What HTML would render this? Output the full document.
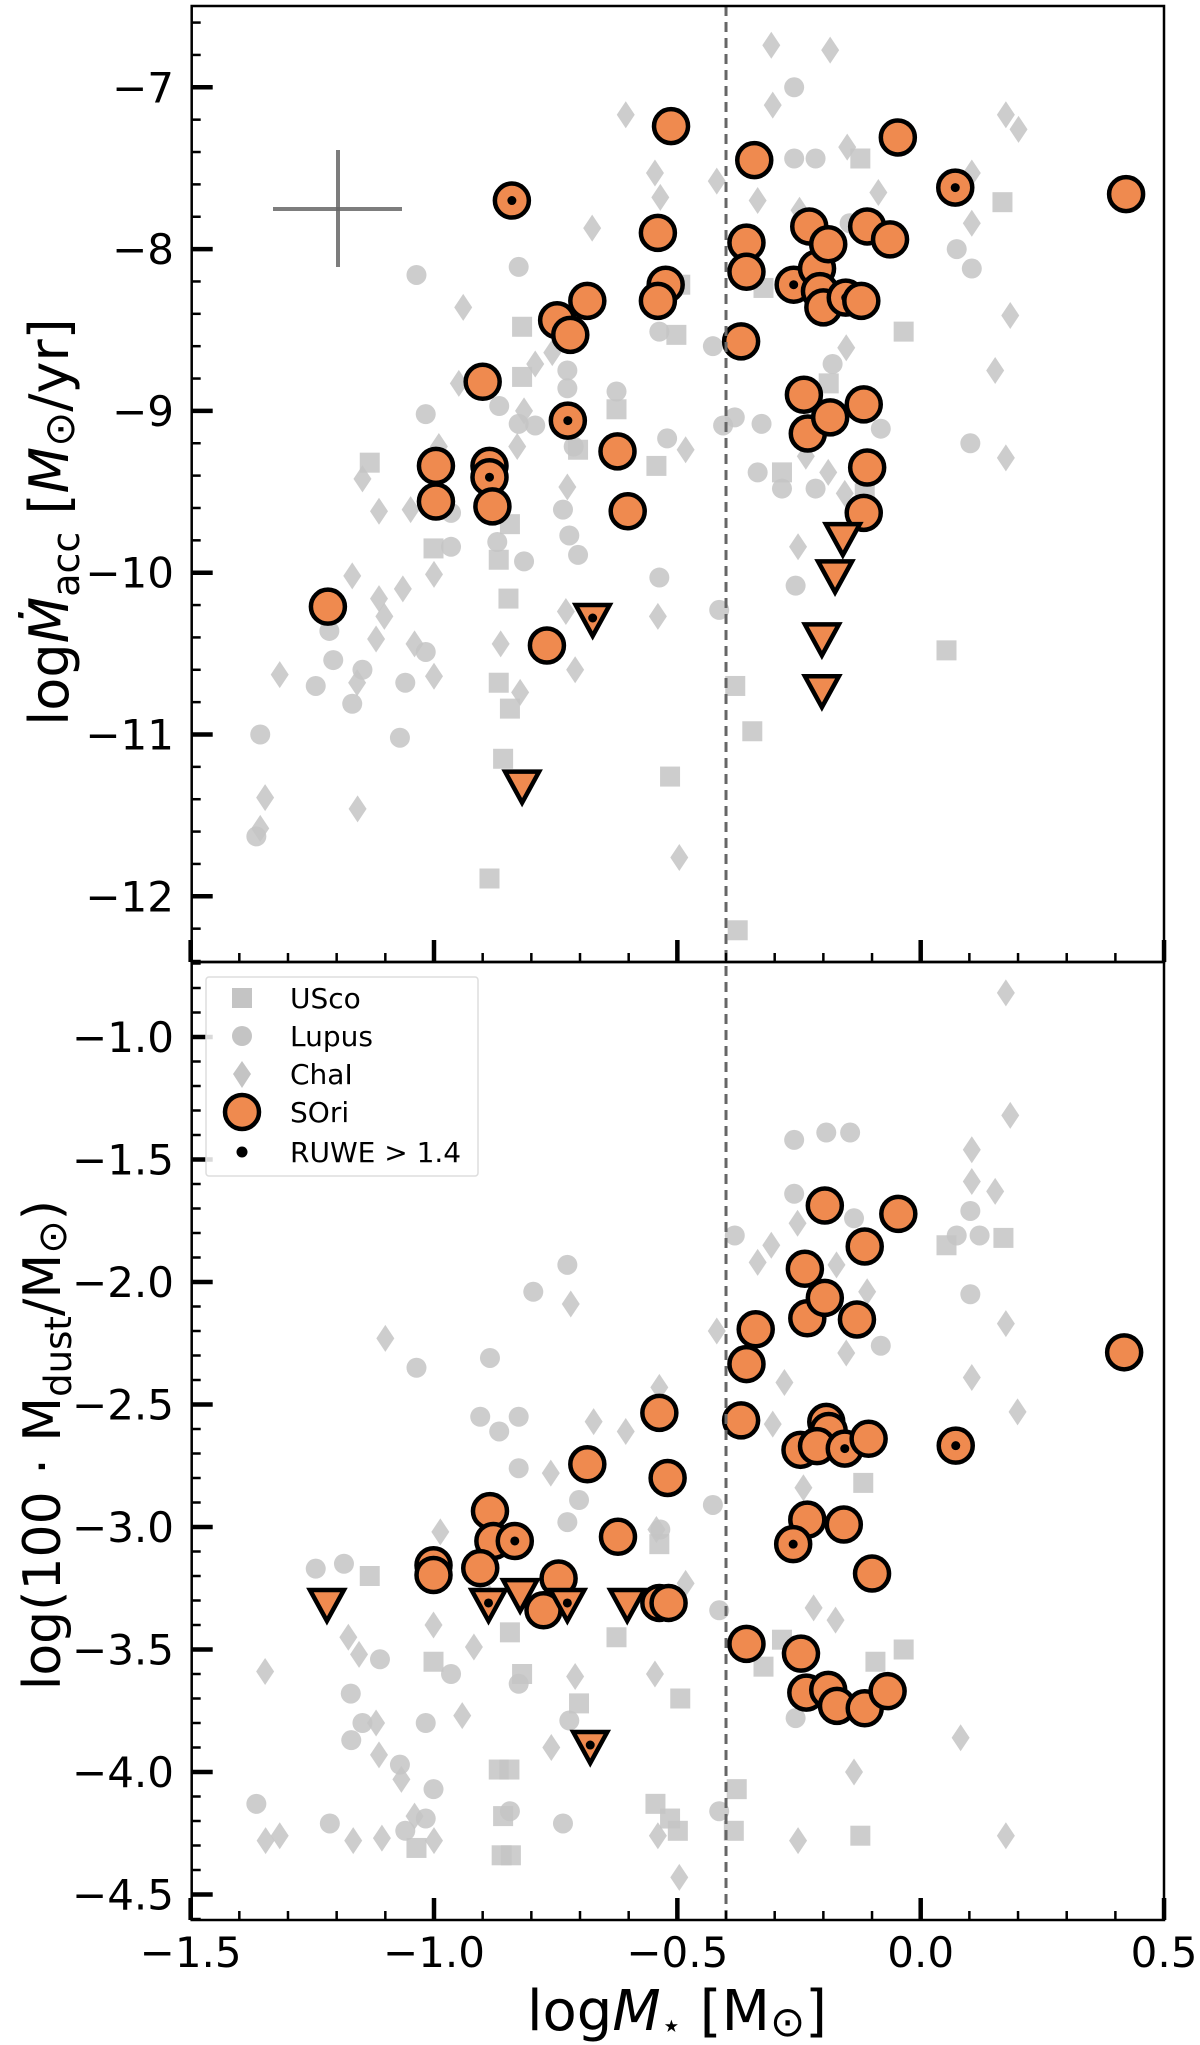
<!DOCTYPE html>
<html><head><meta charset="utf-8">
<style>
html,body{margin:0;padding:0;background:#fff;}
svg{display:block;font-family:"DejaVu Sans","Liberation Sans",sans-serif;}
</style></head>
<body>
<svg id="chart" width="1200" height="2045" viewBox="0 0 1200 2045" xmlns="http://www.w3.org/2000/svg">
<g id="grayLayer"></g>
<g id="oriLayer"></g>
<g id="axesLayer"></g>
<text transform="translate(68,522) rotate(-90)" text-anchor="middle" font-size="54">log<tspan font-style="italic">Ṁ</tspan><tspan font-size="38" dy="11">acc</tspan><tspan dy="-11"> [</tspan><tspan font-style="italic">M</tspan><tspan font-size="42" dy="6">⊙</tspan><tspan dy="-6">/yr]</tspan></text>
<text transform="translate(60,1445) rotate(-90)" text-anchor="middle" font-size="52">log(100 · M<tspan font-size="37" dy="11">dust</tspan><tspan dy="-11">/M</tspan><tspan font-size="40" dy="6">⊙</tspan><tspan dy="-6">)</tspan></text>
<text x="677" y="2030" text-anchor="middle" font-size="56">log<tspan font-style="italic">M</tspan><tspan font-size="34" dy="7">⋆</tspan><tspan dy="-7"> [M</tspan><tspan font-size="42" dy="6">⊙</tspan><tspan dy="-6">]</tspan></text>
<g>
<rect x="206" y="977" width="272" height="199" rx="3" fill="#fff" fill-opacity="0.85" stroke="#ddd" stroke-width="1.5"/>
<rect x="232" y="988" width="20" height="20" fill="#c4c4c4"/>
<text x="290" y="1008" font-size="28">USco</text>
<circle cx="242" cy="1036" r="10" fill="#c4c4c4"/>
<text x="290" y="1046" font-size="28">Lupus</text>
<path d="M242,1061 L251,1074 L242,1088 L233,1074Z" fill="#c4c4c4"/>
<text x="290" y="1084" font-size="28">ChaI</text>
<circle cx="242" cy="1112" r="17" fill="#ef8a4f" stroke="#000" stroke-width="4.5"/>
<text x="290" y="1122" font-size="28">SOri</text>
<circle cx="242" cy="1152" r="5.5" fill="#000"/>
<text x="290" y="1162" font-size="28">RUWE &gt; 1.4</text>
</g>
</svg>
<script>
// ---------- data ----------
const topUscoX=[-1.132,-1.001,-0.819,-0.819,-0.625,-0.704,-0.844,-0.867,-0.847,-0.867,-0.844,-0.858,-0.886,-0.515,-0.543,-0.502,-0.494,-0.381,-0.346,-0.376,-0.124,-0.035,0.168,0.053,-0.285,-0.189,-0.323,-0.115];
const topUscoY=[-9.32,-9.85,-8.48,-8.79,-8.99,-9.24,-9.70,-9.92,-10.16,-10.68,-10.84,-11.15,-11.89,-11.26,-9.34,-8.53,-8.22,-10.70,-10.98,-12.21,-7.44,-8.51,-7.71,-10.48,-9.38,-8.83,-8.24,-9.51];
const topLupusX=[-1.357,-1.365,-1.243,-1.207,-1.215,-1.168,-1.147,-1.07,-1.059,-1.017,-1.036,-1.017,-0.965,-0.965,-0.866,-0.826,-0.826,-0.792,-0.726,-0.726,-0.713,-0.735,-0.722,-0.704,-0.625,-0.521,-0.537,-0.537,-0.427,-0.382,-0.406,-0.335,-0.327,-0.285,-0.26,-0.26,-0.216,-0.257,-0.216,-0.181,-0.082,0.102,0.074,0.105,-0.146,-0.414,-0.815,-0.87];
const topLupusY=[-11.00,-11.63,-10.70,-10.54,-10.36,-10.81,-10.60,-11.02,-10.68,-10.49,-8.16,-9.02,-9.63,-9.84,-8.97,-9.08,-8.11,-9.09,-8.75,-8.86,-9.22,-9.61,-9.77,-9.89,-8.88,-9.17,-10.03,-8.51,-8.60,-9.04,-9.09,-9.38,-9.08,-9.48,-7.00,-7.44,-7.44,-10.08,-9.48,-8.71,-9.11,-9.20,-8.00,-8.12,-7.84,-10.23,-9.93,-9.81];
const topChaX=[-0.606,-0.546,-0.535,-0.675,-0.940,-0.949,-0.757,-0.792,-0.815,-0.829,-0.99,-1.048,-1.113,-1.147,-1.0,-1.168,-1.064,-1.113,-1.102,-1.119,-1.04,-1.0,-1.158,-1.317,-1.347,-1.357,-1.157,-0.863,-0.823,-0.729,-0.71,-0.726,-0.54,-0.496,-0.483,-0.419,-0.335,-0.307,-0.186,-0.304,-0.151,-0.087,0.105,0.105,0.184,0.153,0.175,0.175,0.201,-0.19,-0.236,-0.252,-0.156,-0.249,-0.153];
const topChaY=[-7.17,-7.53,-7.68,-7.87,-8.36,-8.83,-8.64,-8.71,-9.00,-9.22,-9.22,-9.61,-9.62,-9.42,-10.01,-10.02,-10.10,-10.16,-10.27,-10.41,-10.44,-10.64,-10.68,-10.63,-11.39,-11.58,-11.46,-10.44,-10.74,-10.24,-10.60,-9.47,-10.27,-11.76,-9.24,-7.58,-7.70,-6.74,-6.77,-7.11,-7.37,-7.65,-7.53,-7.84,-8.41,-8.75,-9.29,-7.17,-7.26,-9.38,-9.28,-9.84,-9.51,-7.76,-8.61];
const topOriX=[-1.218,-0.996,-0.996,-0.90,-0.886,-0.886,-0.88,-0.84,-0.747,-0.72,-0.685,-0.725,-0.623,-0.602,-0.768,-0.513,-0.54,-0.524,-0.54,-0.342,-0.358,-0.358,-0.369,-0.261,-0.229,-0.213,-0.207,-0.20,-0.19,-0.154,-0.122,-0.11,-0.063,-0.047,-0.24,-0.232,-0.186,-0.117,-0.11,-0.117,0.071,0.422];
const topOriY=[-10.21,-9.34,-9.56,-8.82,-9.34,-9.41,-9.59,-7.70,-8.44,-8.53,-8.32,-9.06,-9.25,-9.62,-10.45,-7.24,-7.90,-8.22,-8.32,-7.45,-7.96,-8.14,-8.57,-8.22,-7.86,-8.12,-8.26,-8.36,-7.97,-8.30,-8.32,-7.86,-7.94,-7.31,-8.90,-9.14,-9.04,-8.96,-9.35,-9.63,-7.62,-7.66];
const topOriRuwe=[0,0,0,0,0,1,0,1,0,0,0,1,0,0,0,0,0,0,0,0,0,0,0,1,0,0,0,0,0,1,0,0,0,0,0,0,0,0,0,0,1,0];
const topLimX=[-0.674,-0.819,-0.16,-0.176,-0.203,-0.203];
const topLimY=[-10.28,-11.31,-9.78,-10.01,-10.40,-10.72];
const topLimRuwe=[1,0,0,0,0,0];

const botUscoX=[-1.132,-1.001,-0.844,-0.819,-0.702,-0.625,-0.867,-0.845,-0.858,-0.861,-0.842,-1.036,-0.545,-0.515,-0.499,-0.494,-0.537,-0.378,-0.384,-0.285,-0.323,-0.124,-0.035,-0.093,0.053,0.17,-0.118];
const botUscoY=[-3.20,-3.55,-3.43,-3.60,-3.72,-3.45,-3.99,-3.99,-4.18,-4.34,-4.34,-4.31,-4.13,-4.19,-4.24,-3.70,-3.07,-4.07,-4.24,-3.46,-3.57,-4.26,-3.50,-3.55,-1.85,-1.82,-2.82];
const botLupusX=[-1.365,-1.214,-1.243,-1.185,-1.171,-1.147,-1.17,-1.111,-1.07,-1.017,-1.001,-1.017,-1.059,-1.036,-0.965,-0.905,-0.885,-0.866,-0.826,-0.826,-0.796,-0.726,-0.726,-0.702,-0.722,-0.735,-0.844,-0.826,-0.535,-0.427,-0.414,-0.382,-0.414,-0.26,-0.194,-0.145,-0.26,-0.257,-0.137,-0.082,0.102,0.102,0.074,0.121];
const botLupusY=[-4.13,-4.21,-3.17,-3.15,-3.68,-3.80,-3.87,-3.54,-3.97,-3.80,-4.07,-4.19,-4.24,-2.35,-3.60,-2.55,-2.31,-2.61,-2.55,-2.76,-2.04,-1.93,-2.98,-2.89,-3.79,-4.21,-4.16,-3.64,-3.01,-2.91,-3.34,-1.81,-4.16,-1.42,-1.39,-1.39,-1.64,-3.78,-1.74,-2.26,-1.71,-2.05,-1.81,-1.81];
const botChaX=[-1.10,-1.347,-1.317,-1.346,-1.176,-1.154,-1.119,-1.113,-1.067,-1.04,-1.0,-1.166,-1.107,-1.001,-0.987,-0.942,-0.918,-0.759,-0.76,-0.719,-0.672,-0.606,-0.537,-0.543,-0.546,-0.54,-0.496,-0.483,-0.419,-0.335,-0.307,-0.253,-0.28,-0.304,-0.241,-0.22,-0.175,-0.153,-0.173,-0.11,-0.137,-0.252,0.082,0.175,0.105,0.105,0.153,0.175,0.184,0.175,0.105,0.199,-0.71,-0.886];
const botChaY=[-2.23,-3.59,-4.26,-4.28,-3.45,-3.52,-3.80,-3.93,-4.03,-4.18,-4.28,-4.28,-4.27,-3.40,-3.02,-3.77,-3.49,-3.90,-2.78,-2.09,-2.57,-2.61,-2.43,-3.01,-3.60,-4.26,-4.43,-3.23,-2.20,-1.92,-1.85,-1.76,-2.41,-2.58,-2.84,-3.33,-3.38,-2.29,-1.93,-2.04,-4.00,-4.28,-3.86,-4.26,-1.46,-1.59,-1.63,-0.82,-1.32,-2.17,-2.39,-2.53,-3.61,-3.29];
const botOriX=[-1.001,-1.001,-0.885,-0.878,-0.834,-0.905,-0.775,-0.744,-0.685,-0.622,-0.537,-0.52,-0.537,-0.518,-0.369,-0.358,-0.339,-0.358,-0.238,-0.233,-0.197,-0.197,-0.115,-0.131,-0.046,-0.194,-0.189,-0.247,-0.213,-0.156,-0.107,-0.233,-0.158,-0.262,-0.10,-0.246,-0.235,-0.19,-0.172,-0.115,-0.068,0.072,0.418];
const botOriY=[-3.156,-3.196,-2.935,-3.057,-3.057,-3.168,-3.34,-3.21,-2.744,-3.04,-2.534,-2.80,-3.31,-3.31,-2.565,-2.335,-2.193,-3.477,-1.946,-2.148,-1.688,-2.065,-1.855,-2.153,-1.722,-2.571,-2.608,-2.685,-2.67,-2.68,-2.64,-2.97,-2.99,-3.07,-3.19,-3.517,-3.676,-3.665,-3.73,-3.74,-3.67,-2.668,-2.287];
const botOriRuwe=[0,0,0,0,1,0,0,0,0,0,0,0,0,0,0,0,0,0,0,0,0,0,0,0,0,0,0,0,0,1,0,0,0,1,0,0,0,0,0,0,0,1,0];
const botLimX=[-1.22,-0.888,-0.823,-0.726,-0.603,-0.679];
const botLimY=[-3.31,-3.31,-3.27,-3.31,-3.31,-3.89];
const botLimRuwe=[0,1,0,1,0,1];

const xTicks=[-1.5,-1.0,-0.5,0.0,0.5];
const xTickLabels=["−1.5","−1.0","−0.5","0.0","0.5"];
const topTicks=[-7,-8,-9,-10,-11,-12];
const topTickLabels=["−7","−8","−9","−10","−11","−12"];
const botTicks=[-1.0,-1.5,-2.0,-2.5,-3.0,-3.5,-4.0,-4.5];
const botTickLabels=["−1.0","−1.5","−2.0","−2.5","−3.0","−3.5","−4.0","−4.5"];
const splitMass=[-0.4];

// ---------- axes ----------
const L=191.7,R=1164,TOP=6,MID=962,BOT=1920;
const xs=v=>920.7+486.7*v;
const yTop=v=>87.3+(-7-v)*161.8;
const yBot=v=>1037+(-1-v)*245;
const NS="http://www.w3.org/2000/svg";
function mk(tag,attrs,parent){const e=document.createElementNS(NS,tag);for(const k in attrs)e.setAttribute(k,attrs[k]);parent.appendChild(e);return e;}
const gray=document.getElementById('grayLayer'),ori=document.getElementById('oriLayer'),ax=document.getElementById('axesLayer');
const GC="#c4c4c4",OC="#ef8a4f";

function drawGray(X,Y,yf,kind,name){
  for(let i=0;i<X.length;i++){const x=xs(X[i]),y=yf(Y[i]);let e;
    if(kind==='sq'){e=mk('rect',{x:x-10,y:y-10,width:20,height:20,fill:GC,'fill-opacity':0.85},gray);}
    else if(kind==='ci'){e=mk('circle',{cx:x,cy:y,r:10,fill:GC,'fill-opacity':0.85},gray);}
    else {e=mk('path',{d:`M${x},${y-13.5} L${x+9},${y} L${x},${y+13.5} L${x-9},${y}Z`,fill:GC,'fill-opacity':0.85},gray);}
    
    
  }
}
drawGray(topUscoX,topUscoY,yTop,'sq','usco-point');
drawGray(topLupusX,topLupusY,yTop,'ci','lupus-point');
drawGray(topChaX,topChaY,yTop,'di','chai-point');
drawGray(botUscoX,botUscoY,yBot,'sq','usco-point');
drawGray(botLupusX,botLupusY,yBot,'ci','lupus-point');
drawGray(botChaX,botChaY,yBot,'di','chai-point');

for(const m of splitMass){const l=mk('line',{x1:xs(m),x2:xs(m),y1:TOP,y2:BOT,stroke:'#666','stroke-width':3,'stroke-dasharray':'10,6'},ax);

}

function drawOri(X,Y,RW,yf){
  for(let i=0;i<X.length;i++){const x=xs(X[i]),y=yf(Y[i]);
    const c=mk('circle',{cx:x,cy:y,r:17,fill:OC,stroke:'#000','stroke-width':4.5},ori);
    
    
    if(RW[i]){const d=mk('circle',{cx:x,cy:y,r:4.5,fill:'#000'},ori);
      
      }
  }
}
function drawLim(X,Y,RW,yf){
  for(let i=0;i<X.length;i++){const x=xs(X[i]),y=yf(Y[i]);
    const t=mk('path',{d:`M${x-17},${y-13} L${x+17},${y-13} L${x},${y+18}Z`,fill:OC,stroke:'#000','stroke-width':4.5,'stroke-linejoin':'miter'},ori);
    
    
    if(RW[i]){const d=mk('circle',{cx:x,cy:y,r:4.5,fill:'#000'},ori);
      
      }
  }
}
drawOri(topOriX,topOriY,topOriRuwe,yTop);
drawLim(topLimX,topLimY,topLimRuwe,yTop);
drawOri(botOriX,botOriY,botOriRuwe,yBot);
drawLim(botLimX,botLimY,botLimRuwe,yBot);

const ec=mk('g',{},ax);


mk('line',{x1:273,x2:402,y1:209,y2:209,stroke:'#666','stroke-opacity':0.85,'stroke-width':4},ec);
mk('line',{x1:338,x2:338,y1:150,y2:267,stroke:'#666','stroke-opacity':0.85,'stroke-width':4},ec);

const f1=mk('rect',{x:L,y:TOP,width:R-L,height:MID-TOP,fill:'none',stroke:'#000','stroke-width':2.5},ax);


const f2=mk('rect',{x:L,y:MID,width:R-L,height:BOT-MID,fill:'none',stroke:'#000','stroke-width':2.5},ax);



for(let v=-1.5;v<=0.501;v+=0.1){const x=xs(v);const major=Math.abs(v*2-Math.round(v*2))<1e-6;
  const len=major?22:9,w=major?4.5:2.5;
  mk('line',{x1:x,x2:x,y1:BOT,y2:BOT-len,stroke:'#000','stroke-width':w},ax);
  mk('line',{x1:x,x2:x,y1:MID,y2:MID-len,stroke:'#000','stroke-width':w},ax);
}
xTicks.forEach((v,i)=>{const t=mk('text',{x:xs(v),y:1967,'text-anchor':'middle','font-size':42},ax);t.textContent=xTickLabels[i];
  
  });
for(let v=-6.6;v>=-12.4;v-=0.2){const y=yTop(v);if(y<TOP||y>MID)continue;const major=Math.abs(v-Math.round(v))<1e-6;
  mk('line',{x1:L,x2:L+(major?21:9),y1:y,y2:y,stroke:'#000','stroke-width':major?4.5:2.5},ax);}
topTicks.forEach((v,i)=>{const t=mk('text',{x:174,y:yTop(v)+15,'text-anchor':'end','font-size':42},ax);t.textContent=topTickLabels[i];
  
  });
for(let k=-7;k>=-46;k--){const v=k/10;const y=yBot(v);if(y<MID||y>BOT)continue;const major=(k%5===0);
  mk('line',{x1:L,x2:L+(major?21:9),y1:y,y2:y,stroke:'#000','stroke-width':major?4.5:2.5},ax);}
botTicks.forEach((v,i)=>{const t=mk('text',{x:174,y:yBot(v)+15,'text-anchor':'end','font-size':42},ax);t.textContent=botTickLabels[i];
  
  });
</script>
</body></html>
